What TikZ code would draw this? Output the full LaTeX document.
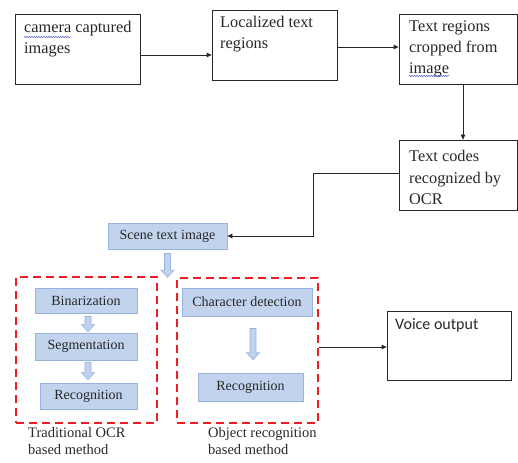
\documentclass[tikz,border=0pt]{standalone}
\usepackage{fontspec}
\setmainfont{Liberation Serif}
\newfontfamily\calibri{Carlito}
\usetikzlibrary{arrows.meta,calc,decorations.pathmorphing}
\definecolor{bfill}{RGB}{194,211,238}
\definecolor{bline}{RGB}{150,178,222}
\definecolor{rdash}{RGB}{236,30,36}
\definecolor{squig}{RGB}{80,100,200}
\definecolor{txt}{RGB}{40,40,40}
\newcommand\hollowdown[2]{%
  \filldraw[hollow] let \p1=(#1), \p2=(#2) in
    (\x1-3pt,\y1) -- (\x1+3pt,\y1) -- (\x1+3pt,\y2+7pt) -- (\x1+6.5pt,\y2+7pt)
    -- (\x1,\y2) -- (\x1-6.5pt,\y2+7pt) -- (\x1-3pt,\y2+7pt) -- cycle;}
\begin{document}
\begin{tikzpicture}[x=1pt,y=-1pt,
  wbox/.style={draw=black!85, line width=0.8pt, fill=white, inner sep=0pt},
  bbox/.style={draw=bline, line width=0.8pt, fill=bfill, inner sep=0pt, text=txt,
     font=\fontsize{14}{17}\selectfont},
  dbox/.style={draw=rdash, line width=1.8pt, dash pattern=on 8pt off 5pt, inner sep=0pt},
  bigtxt/.style={anchor=base west, inner sep=0pt, text=txt, font=\fontsize{16.3}{21}\selectfont},
  lbl/.style={anchor=base west, inner sep=0pt, text=txt, font=\fontsize{14.5}{17}\selectfont},
  conn/.style={draw=black!85, line width=0.8pt, -{Triangle[length=5pt,width=4.5pt]}},
  hollow/.style={draw=bline, fill=bfill, line width=0.7pt},
  squiggle/.style={draw=squig, line width=0.5pt, decorate,
     decoration={snake, amplitude=0.7pt, segment length=2.4pt}}
]
\useasboundingbox (0,0) rectangle (518,462);
% top boxes
\node[wbox, minimum width=125pt, minimum height=70pt] (b1) at (77.5,49) {};
\node[wbox, minimum width=125pt, minimum height=70pt] (b2) at (274.5,45) {};
\node[wbox, minimum width=118pt, minimum height=70pt] (b3) at (458,49) {};
\node[wbox, minimum width=118pt, minimum height=70pt] (b4) at (458,175) {};
\node[bigtxt] (t1) at (24,33) {\parbox[t]{120pt}{\raggedright camera captured\\images}};
\node[bigtxt] (t2) at (220,28) {\parbox[t]{120pt}{\raggedright Localized text\\regions}};
\node[bigtxt] (t3) at (409,32) {\parbox[t]{110pt}{\raggedright Text regions\\cropped from\\image}};
\node[bigtxt] (t4) at (409,162) {\parbox[t]{110pt}{\raggedright Text codes\\recognized by\\OCR}};
\draw[squiggle] (24,37) -- (71,37);
\draw[squiggle] (409,76) -- (449,76);
% blue boxes
\node[bbox, minimum width=119pt, minimum height=26pt] (scene) at (167.5,236) {Scene text image};
\node[dbox, minimum width=141pt, minimum height=146pt] (ld) at (86.5,350) {};
\node[dbox, minimum width=141pt, minimum height=145pt] (rd) at (247.5,350.5) {};
\node[bbox, minimum width=102pt, minimum height=25pt] (bin) at (86,300.5) {Binarization};
\node[bbox, minimum width=102pt, minimum height=27pt] (seg) at (86,346.5) {Segmentation};
\node[bbox, minimum width=97pt, minimum height=26pt] (rec1) at (88.5,396) {Recognition};
\node[bbox, minimum width=130pt, minimum height=28pt] (chr) at (247,302) {Character detection};
\node[bbox, minimum width=105pt, minimum height=28pt] (rec2) at (250.5,387) {Recognition};
% voice
\node[wbox, minimum width=124pt, minimum height=69pt] (voice) at (449,345.5) {};
\node[anchor=base west, inner sep=0pt, text=txt, font=\calibri\fontsize{16}{19}\selectfont] (tv) at (395,329) {Voice output};
% labels
\node[lbl] (l1) at (28,437) {\parbox[t]{130pt}{Traditional OCR\\based method}};
\node[lbl] (l2) at (208,437) {\parbox[t]{130pt}{Object recognition\\based method}};
% connectors
\draw[conn] (b1.east |- 0,55) -- (b2.west |- 0,55);
\draw[conn] (b2.east |- 0,47) -- (b3.west |- 0,47);
\draw[conn] (b3.south -| 463,0) -- (b4.north -| 463,0);
\draw[conn] (b4.west |- 0,173) -- (313,173) -- (313,236) -- (scene.east);
\draw[conn] (rd.east |- 0,347) -- (voice.west |- 0,347);
% hollow arrows
\hollowdown{$(scene.south)+(0,4)$}{$(scene.south |- ld.north)+(0,1)$}
\hollowdown{$(bin.south)+(2,3)$}{$(seg.north)+(2,-1)$}
\hollowdown{$(seg.south)+(2,2)$}{$(rec1.north)+(0,-3)$}
\hollowdown{$(rec2.north |- chr.south)+(2.5,12)$}{$(rec2.north)+(2.5,-13)$}
\end{tikzpicture}
\end{document}
